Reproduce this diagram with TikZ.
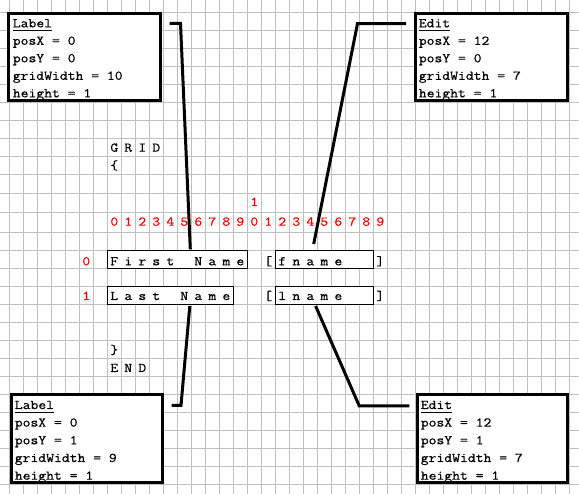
\documentclass[tikz,border=0pt]{standalone}
\usepackage{fontspec}
\setmonofont{Latin Modern Mono}[FakeStretch=1.143,FakeBold=0.5]
\begin{document}
\begin{tikzpicture}[x=1pt,y=-1pt,
  every node/.style={font=\ttfamily\fontsize{13.33}{16}\selectfont, inner sep=0pt, outer sep=0pt},
  gridline/.style={draw=gray!50, line width=1pt},
  infobox/.style={draw=black, line width=3pt, fill=white, rectangle},
  conn/.style={draw=black, line width=3pt},
  cellbox/.style={draw=black, line width=1pt, fill=white, rectangle},
  txt/.style={anchor=base west, text=black},
  ch/.style={anchor=base, text=black},
  num/.style={anchor=base, text=red},
  uline/.style={draw=black, line width=1pt}]

\fill[white] (0,0) rectangle (579,494);
\useasboundingbox (0,0) rectangle (579,494);

% background grid
\foreach \k in {0,...,40} \draw[gridline] (9.3+14*\k,0) -- (9.3+14*\k,494);
\foreach \yy in {12.7,30.7,48.7,66.7,84.7,102.7,120.7,138.7,156.7,174.7,193.3,212.7,232.7,250.7,268.7,286.7,304.7,322.7,340.7,358.7,376.7,394.7,412.7,430.7,448.7,466.7,484.7}
  \draw[gridline] (0,\yy) -- (579,\yy);

% info boxes
\node[infobox, minimum width=152, minimum height=87] (b1) at (84.8,56.7) {};
\node[infobox, minimum width=152, minimum height=87] (b2) at (491.2,56.7) {};
\node[infobox, minimum width=151, minimum height=88] (b3) at (87,438.8) {};
\node[infobox, minimum width=150.3, minimum height=87.7] (b4) at (492.65,438.65) {};

% box 1
\node[txt] (b1l1) at (12.8,27.3) {Label};
\node[txt] (b1l2) at (12.8,44.8) {posX = 0};
\node[txt] (b1l3) at (12.8,62.3) {posY = 0};
\node[txt] (b1l4) at (12.8,79.8) {gridWidth = 10};
\node[txt] (b1l5) at (12.8,97.3) {height = 1};
\draw[uline] ([yshift=-3.4pt]b1l1.base west) -- ([yshift=-3.4pt]b1l1.base east);

% box 2
\node[txt] (b2l1) at (418.8,27.3) {Edit};
\node[txt] (b2l2) at (418.8,44.8) {posX = 12};
\node[txt] (b2l3) at (418.8,62.3) {posY = 0};
\node[txt] (b2l4) at (418.8,79.8) {gridWidth = 7};
\node[txt] (b2l5) at (418.8,97.3) {height = 1};
\draw[uline] ([yshift=-3.4pt]b2l1.base west) -- ([yshift=-3.4pt]b2l1.base east);

% box 3
\node[txt] (b3l1) at (14.8,409) {Label};
\node[txt] (b3l2) at (14.8,426.6) {posX = 0};
\node[txt] (b3l3) at (14.8,444.3) {posY = 1};
\node[txt] (b3l4) at (14.8,462) {gridWidth = 9};
\node[txt] (b3l5) at (14.8,479.7) {height = 1};
\draw[uline] ([yshift=-3.4pt]b3l1.base west) -- ([yshift=-3.4pt]b3l1.base east);

% box 4
\node[txt] (b4l1) at (420.8,409) {Edit};
\node[txt] (b4l2) at (420.8,426.6) {posX = 12};
\node[txt] (b4l3) at (420.8,444.3) {posY = 1};
\node[txt] (b4l4) at (420.8,462) {gridWidth = 7};
\node[txt] (b4l5) at (420.8,479.7) {height = 1};
\draw[uline] ([yshift=-3.4pt]b4l1.base west) -- ([yshift=-3.4pt]b4l1.base east);

% grid text
\foreach \c/\k in {G/0,R/1,I/2,D/3} \node[ch] (g\k) at (114.3+14*\k,151.7) {\c};
\node[ch] (ob) at (114.3,169.5) {\{};
\node[ch] (cb) at (114.3,354) {\}};
\foreach \c/\k in {E/0,N/1,D/2} \node[ch] (e\k) at (114.3+14*\k,372) {\c};

\node[num] (tens) at (254.3,206) {1};
\foreach \i in {0,...,19} {
  \pgfmathtruncatemacro\dd{mod(\i,10)}
  \node[num] (d\i) at (114.3+14*\i,225.7) {\dd};
}
\node[num] (r0) at (86.3,265.3) {0};
\node[num] (r1) at (86.3,300) {1};

% cell boxes
\node[cellbox, minimum width=140, minimum height=18] (fnbox) at (177.5,259.5) {};
\node[cellbox, minimum width=126, minimum height=17.5] (lnbox) at (170.5,295.5) {};
\node[cellbox, minimum width=98, minimum height=18] (fbox) at (324.5,259.5) {};
\node[cellbox, minimum width=98, minimum height=17.5] (lbox) at (324.5,295.5) {};

\foreach \c/\k in {F/0,i/1,r/2,s/3,t/4,N/6,a/7,m/8,e/9} \node[ch] (fn\k) at (114.3+14*\k,265.3) {\c};
\foreach \c/\k in {L/0,a/1,s/2,t/3,N/5,a/6,m/7,e/8} \node[ch] (ln\k) at (114.3+14*\k,300) {\c};
\foreach \c/\k in {f/12,n/13,a/14,m/15,e/16} \node[ch] (fe\k) at (114.3+14*\k,265.3) {\c};
\foreach \c/\k in {l/12,n/13,a/14,m/15,e/16} \node[ch] (le\k) at (114.3+14*\k,300) {\c};
\node[ch] (lb0) at (268.3,265.3) {[};
\node[ch] (rb0) at (380.3,265.3) {]};
\node[ch] (lb1) at (268.3,300) {[};
\node[ch] (rb1) at (380.3,300) {]};

% connectors
\coordinate (c1s) at (169.5,23.5);
\coordinate (c1a) at (180.5,23.5);
\coordinate (c1e) at (190.3,249.3);
\coordinate (c2s) at (406,23.6);
\coordinate (c2a) at (357.5,23.6);
\coordinate (c2e) at (313.7,244);
\coordinate (c3s) at (171.5,405.3);
\coordinate (c3a) at (181,405.3);
\coordinate (c3e) at (189.8,306);
\coordinate (c4s) at (409.3,406);
\coordinate (c4a) at (359.3,406);
\coordinate (c4e) at (315.6,306);
\draw[conn] (c1s) -- (c1a) -- (c1e);
\draw[conn] (c2s) -- (c2a) -- (c2e);
\draw[conn] (c3s) -- (c3a) -- (c3e);
\draw[conn] (c4s) -- (c4a) -- (c4e);
\end{tikzpicture}
\end{document}
